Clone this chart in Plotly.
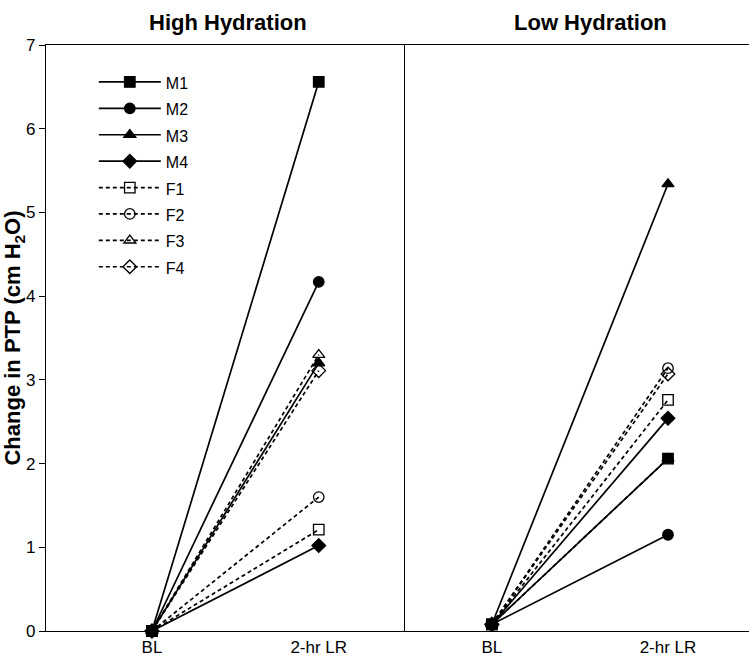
import plotly.graph_objects as go
from plotly.subplots import make_subplots

timepoints = ["BL", "2-hr LR"]
subjects = ["M1", "M2", "M3", "M4", "F1", "F2", "F3", "F4"]
high_bl = [0, 0, 0, 0, 0, 0, 0, 0]
high_lr = [6.56, 4.17, 3.20, 1.02, 1.21, 1.60, 3.30, 3.11]
low_bl = [0.08, 0.08, 0.08, 0.08, 0.08, 0.08, 0.08, 0.08]
low_lr = [2.06, 1.15, 5.34, 2.54, 2.76, 3.14, 2.06, 3.07]
symbols = ["square", "circle", "triangle-up", "diamond",
           "square-open", "circle-open", "triangle-up-open", "diamond-open"]
panel_titles = ["High Hydration", "Low Hydration"]

FONT = "Liberation Sans, Arial, sans-serif"

fig = make_subplots(rows=1, cols=2, shared_yaxes=True, horizontal_spacing=0)

for i, s in enumerate(subjects):
    dash = "solid" if s.startswith("M") else "4px,3px"
    for col, (bl, lr) in enumerate([(high_bl, high_lr), (low_bl, low_lr)], start=1):
        fig.add_trace(go.Scatter(
            x=[0, 1], y=[bl[i], lr[i]], mode="lines+markers",
            name=f"<span style='font-size:16px'>{s}</span>",
            legendgroup=s, showlegend=(col == 1), cliponaxis=False,
            line=dict(color="black", width=1.7, dash=dash),
            marker=dict(symbol=symbols[i], size=10.5, color="black",
                        line=dict(color="black", width=1.3)),
        ), row=1, col=col)

fig.update_xaxes(tickvals=[0, 1], ticktext=timepoints, showgrid=False, zeroline=False,
                 showline=True, linecolor="black", linewidth=1.3, mirror=True,
                 ticks="", tickfont=dict(family=FONT, size=17, color="black"))
fig.update_xaxes(range=[-0.635, 1.51], domain=[0, 0.509], row=1, col=1)
fig.update_xaxes(range=[-0.5, 1.46], domain=[0.509, 1], row=1, col=2)

fig.update_yaxes(range=[0, 7], dtick=1, showgrid=False, zeroline=False,
                 tickfont=dict(family=FONT, size=17, color="black"))
fig.update_yaxes(showline=True, linecolor="black", linewidth=1.3, mirror=True,
                 ticks="outside", ticklen=6, tickcolor="black",
                 title=dict(text="<b>Change in PTP (cm H<sub>2</sub>O)</b>",
                            font=dict(family=FONT, size=22, color="black"), standoff=10),
                 row=1, col=1)
fig.update_yaxes(showline=False, ticks="", row=1, col=2)

for title, xc in zip(panel_titles, [0.259, 0.774]):
    fig.add_annotation(text=f"<b>{title}</b>", x=xc, y=1, xref="paper", yref="paper",
                       xanchor="center", yanchor="middle", yshift=23, showarrow=False,
                       font=dict(family=FONT, size=22, color="black"))

fig.update_layout(
    width=749, height=663, plot_bgcolor="white", paper_bgcolor="white",
    margin=dict(l=46, r=0, t=45, b=32),
    legend=dict(x=0.068, y=0.968, xanchor="left", yanchor="top", bgcolor="rgba(0,0,0,0)",
                font=dict(family=FONT, size=18, color="black"), itemwidth=62,
                tracegroupgap=0),
)

fig.write_html("out.html")
